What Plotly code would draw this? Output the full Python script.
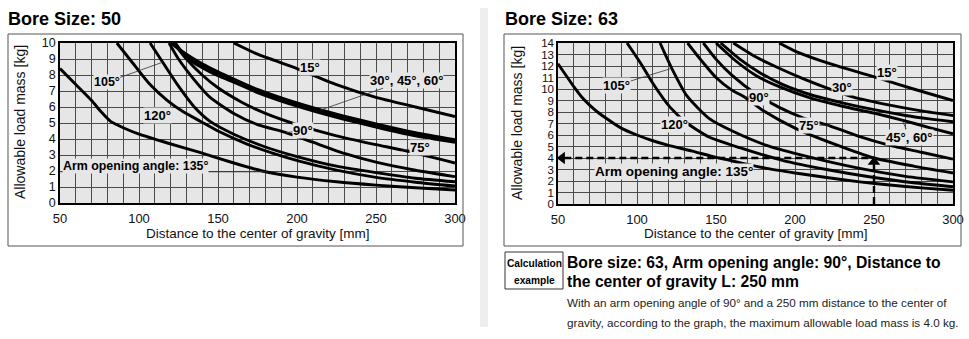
import numpy as np
import plotly.graph_objects as go

W, H = 969, 339

# ---------------- data: Bore Size 50 ----------------
b50_15_x = [160, 175, 200, 225, 250, 275, 300]
b50_15_y = [10, 9.3, 8.4, 7.4, 6.6, 6.0, 5.4]
b50_30_x = [120, 130, 140, 150, 160, 175, 200, 225, 250, 275, 300]
b50_30_y = [10, 9.3, 8.7, 8.2, 7.75, 7.1, 6.25, 5.55, 4.95, 4.4, 3.95]
b50_45_x = [121, 130, 140, 150, 160, 175, 200, 225, 250, 275, 300]
b50_45_y = [10, 9.2, 8.6, 8.1, 7.65, 7.0, 6.15, 5.45, 4.85, 4.3, 3.88]
b50_60_x = [123, 130, 140, 150, 160, 175, 200, 225, 250, 275, 300]
b50_60_y = [10, 9.1, 8.45, 7.95, 7.55, 6.9, 6.05, 5.35, 4.75, 4.2, 3.8]
b50_75_x = [122, 130, 140, 150, 165, 180, 200, 225, 250, 267, 300]
b50_75_y = [10, 9.0, 8.0, 7.2, 6.3, 5.6, 4.9, 4.2, 3.65, 3.3, 2.5]
b50_90_x = [119, 125, 135, 145, 160, 175, 193, 210, 230, 250, 275, 300]
b50_90_y = [10, 9.0, 7.7, 6.6, 5.6, 4.9, 4.4, 3.8, 3.1, 2.55, 2.05, 1.65]
b50_105_x = [107, 115, 125, 135, 145, 160, 180, 200, 225, 250, 275, 300]
b50_105_y = [10, 8.8, 7.3, 6.0, 5.1, 4.3, 3.5, 2.9, 2.3, 1.9, 1.55, 1.33]
b50_120_x = [86, 96, 107, 118, 128, 139, 150, 168, 185, 202, 225, 250, 275, 300]
b50_120_y = [10, 8.75, 7.4, 6.4, 5.7, 5.1, 4.5, 3.7, 3.1, 2.6, 2.05, 1.6, 1.3, 1.06]
b50_135_x = [50, 60, 70, 76, 82, 90, 100, 118, 139, 160, 178, 200, 225, 250, 275, 300]
b50_135_y = [8.4, 7.4, 6.4, 5.7, 5.1, 4.7, 4.3, 3.75, 3.15, 2.5, 2.0, 1.62, 1.33, 1.12, 0.95, 0.81]

# ---------------- data: Bore Size 63 ----------------
b63_15_x = [190, 200, 222, 254, 275, 300]
b63_15_y = [14, 13.3, 12.2, 10.9, 10.0, 9.0]
b63_30_x = [161, 175, 190, 205, 220, 237, 260, 280, 300]
b63_30_y = [14, 12.8, 11.8, 10.9, 10.1, 9.3, 8.6, 8.1, 7.7]
b63_45_x = [153, 165, 178, 192, 210, 230, 250, 270, 285, 300]
b63_45_y = [14, 12.6, 11.4, 10.4, 9.5, 8.8, 8.2, 7.7, 7.4, 7.15]
b63_60_x = [150, 162, 175, 190, 210, 230, 250, 267.7, 285, 300]
b63_60_y = [14, 12.5, 11.2, 10.2, 9.2, 8.5, 7.9, 7.3, 6.65, 6.1]
b63_75_x = [142, 150, 160, 175, 190, 205, 222, 240, 260, 280, 300]
b63_75_y = [14, 12.6, 11.2, 9.6, 8.4, 7.5, 6.8, 5.9, 5.1, 4.5, 3.9]
b63_90_x = [132, 140, 150, 160, 168, 180, 200, 225, 250, 275, 300]
b63_90_y = [14, 12.6, 11.0, 9.9, 9.3, 8.1, 6.6, 5.2, 4.0, 3.3, 2.7]
b63_105_x = [114.6, 122, 131.6, 146, 161, 182, 203, 241, 270, 300]
b63_105_y = [14, 11.8, 9.4, 7.4, 6.3, 5.1, 4.3, 3.1, 2.4, 1.92]
b63_120_x = [93.7, 102, 110, 121, 132, 146, 165, 192, 220, 250, 275, 300]
b63_120_y = [14, 12.3, 10.5, 8.4, 7.0, 5.8, 4.9, 3.8, 3.0, 2.3, 1.85, 1.5]
b63_135_x = [50, 55, 60, 65, 70, 75, 80, 90, 100, 110, 120, 135, 150, 165, 182, 200, 220, 241, 260, 280, 300]
b63_135_y = [12.2, 11.2, 10.2, 9.3, 8.6, 8.0, 7.5, 6.6, 6.0, 5.5, 5.1, 4.6, 4.05, 3.6, 3.1, 2.7, 2.3, 1.92, 1.65, 1.4, 1.2]

# calculation example
calc_distance = 250
calc_mass = 4.0

x_ticks = [50, 100, 150, 200, 250, 300]

BG = "#e6e6e6"
GRID = "#4a4a4a"
FONT = "Liberation Sans, Arial, sans-serif"


def px_x(p):
    return p / W


def px_y(p):
    return 1 - p / H


fig = go.Figure()

curves50 = [(b50_15_x, b50_15_y), (b50_30_x, b50_30_y), (b50_45_x, b50_45_y), (b50_60_x, b50_60_y),
            (b50_75_x, b50_75_y), (b50_90_x, b50_90_y), (b50_105_x, b50_105_y), (b50_120_x, b50_120_y),
            (b50_135_x, b50_135_y)]
curves63 = [(b63_15_x, b63_15_y), (b63_30_x, b63_30_y), (b63_45_x, b63_45_y), (b63_60_x, b63_60_y),
            (b63_75_x, b63_75_y), (b63_90_x, b63_90_y), (b63_105_x, b63_105_y), (b63_120_x, b63_120_y),
            (b63_135_x, b63_135_y)]

LW = 2.9
for cx, cy in curves50:
    fig.add_trace(go.Scatter(x=cx, y=cy, mode="lines", line=dict(color="black", width=LW, shape="spline", smoothing=0.6),
                             xaxis="x", yaxis="y", showlegend=False, hoverinfo="skip"))
for cx, cy in curves63:
    fig.add_trace(go.Scatter(x=cx, y=cy, mode="lines", line=dict(color="black", width=LW, shape="spline", smoothing=0.6),
                             xaxis="x2", yaxis="y2", showlegend=False, hoverinfo="skip"))

# calculation example dashed guides
fig.add_trace(go.Scatter(x=[x_ticks[0] + 4, calc_distance], y=[calc_mass, calc_mass], mode="lines",
                         line=dict(color="black", width=2.4, dash="7px,4px"), xaxis="x2", yaxis="y2",
                         showlegend=False, hoverinfo="skip"))
fig.add_trace(go.Scatter(x=[calc_distance, calc_distance], y=[0, calc_mass - 0.35], mode="lines",
                         line=dict(color="black", width=2.4, dash="7px,4px"), xaxis="x2", yaxis="y2",
                         showlegend=False, hoverinfo="skip"))
fig.add_trace(go.Scatter(x=[x_ticks[0] + 2.6], y=[calc_mass], mode="markers",
                         marker=dict(symbol="triangle-left", size=11, color="black"), xaxis="x2", yaxis="y2",
                         showlegend=False, hoverinfo="skip"))
fig.add_trace(go.Scatter(x=[calc_distance], y=[calc_mass - 0.35], mode="markers",
                         marker=dict(symbol="triangle-up", size=11, color="black"), xaxis="x2", yaxis="y2",
                         showlegend=False, hoverinfo="skip"))

axis_common = dict(showgrid=True, gridcolor=GRID, gridwidth=1, zeroline=False, showline=True, linecolor="black",
                   linewidth=1.5, mirror=True, ticks="", fixedrange=True, automargin=False)
xt_font = dict(family=FONT, size=13, color="#111")

fig.update_layout(
    width=W, height=H, margin=dict(l=0, r=0, t=0, b=0, autoexpand=False),
    paper_bgcolor="white", plot_bgcolor=BG, showlegend=False,
    xaxis=dict(domain=[px_x(60), px_x(455)], range=[50, 300], tickvals=x_ticks, anchor="y", tickfont=xt_font,
               ticklabelstandoff=3,
               minor=dict(dtick=10, tick0=50, showgrid=True, gridcolor=GRID, gridwidth=1), **axis_common),
    yaxis=dict(domain=[px_y(203), px_y(43)], range=[0, 10], dtick=1, anchor="x",
               tickfont=dict(family=FONT, size=12.5, color="#111"), **axis_common),
    xaxis2=dict(domain=[px_x(558), px_x(953)], range=[50, 300], tickvals=x_ticks, anchor="y2", tickfont=xt_font,
                ticklabelstandoff=3,
                minor=dict(dtick=10, tick0=50, showgrid=True, gridcolor=GRID, gridwidth=1), **axis_common),
    yaxis2=dict(domain=[px_y(204), px_y(43)], range=[0, 14], dtick=1, anchor="x2",
                tickfont=dict(family=FONT, size=11.5, color="#111"), **axis_common),
)

shapes = []
# outer boxes
shapes.append(dict(type="rect", xref="paper", yref="paper", x0=px_x(8), x1=px_x(463), y0=px_y(246), y1=px_y(34),
                   line=dict(color="#555", width=1)))
shapes.append(dict(type="rect", xref="paper", yref="paper", x0=px_x(504), x1=px_x(961), y0=px_y(246), y1=px_y(34),
                   line=dict(color="#555", width=1)))
# divider
shapes.append(dict(type="rect", xref="paper", yref="paper", x0=px_x(480), x1=px_x(488), y0=px_y(327), y1=px_y(8),
                   fillcolor="#eeeeee", line=dict(width=0), layer="below"))
# calc example box
shapes.append(dict(type="rect", xref="paper", yref="paper", x0=px_x(505), x1=px_x(563), y0=px_y(289), y1=px_y(252),
                   line=dict(color="#333", width=1)))

# 135 leader underline (left)
lead_m = 1.95
lead_end = float(np.interp(-lead_m, -np.array(b50_135_y), np.array(b50_135_x)))
shapes.append(dict(type="line", xref="x", yref="y", x0=50.5, x1=lead_end, y0=lead_m, y1=lead_m,
                   line=dict(color="#333", width=0.8)))
fig.update_layout(shapes=shapes)

ann = []


def lab(text, x, y, xr, yr, ax=None, ay=None, size=13, **kw):
    d = dict(text="<b>%s</b>" % text, x=x, y=y, xref=xr, yref=yr, bgcolor=BG, borderpad=0,
             font=dict(family=FONT, size=size, color="black"))
    if ax is None:
        d["showarrow"] = False
    else:
        d.update(showarrow=True, ax=ax, ay=ay, arrowhead=0, arrowwidth=0.8, arrowcolor="#333", standoff=0)
    d.update(kw)
    ann.append(d)


# left chart labels
lab("15°", 208, 8.45, "x", "y")
lab("30°, 45°, 60°", 214.6, 5.8, "x", "y", ax=86, ay=-30)
lab("105°", 115, 8.8, "x", "y", ax=-56, ay=20, size=12.5)
lab("120°", 112, 5.5, "x", "y")
lab("90°", 193, 4.4, "x", "y", ax=17, ay=-2)
lab("75°", 267, 3.3, "x", "y", ax=17, ay=-3)
lab("Arm opening angle: 135°", 51, 2.3, "x", "y", xanchor="left", size=12.4)

# right chart labels
lab("15°", 258, 11.45, "x2", "y2")
lab("30°", 229.7, 10.15, "x2", "y2")
lab("90°", 168, 9.3, "x2", "y2", ax=15, ay=0)
lab("105°", 122, 11.8, "x2", "y2", ax=-55, ay=17)
lab("120°", 123.5, 6.9, "x2", "y2")
lab("75°", 222, 6.85, "x2", "y2", ax=-21, ay=0)
lab("45°, 60°", 267.7, 7.3, "x2", "y2", ax=8, ay=17)
lab("Arm opening angle: 135°", 73, 2.85, "x2", "y2", xanchor="left", size=13.5)


def ptext(text, x, y, size, xanchor="left", bold=False, color="black", angle=0):
    ann.append(dict(text=("<b>%s</b>" % text) if bold else text, x=px_x(x), y=px_y(y), xref="paper", yref="paper",
                    xanchor=xanchor, yanchor="middle", showarrow=False, borderpad=0, textangle=angle,
                    font=dict(family=FONT, size=size, color=color)))


# axis titles
for cx in (257.5, 755.5):
    ptext("Distance to the center of gravity [mm]", cx, 233, 13.5, xanchor="center", color="#111")
ptext("Allowable load mass [kg]", 20, 122, 14, xanchor="center", color="#111", angle=-90)
ptext("Allowable load mass [kg]", 517, 123, 14, xanchor="center", color="#111", angle=-90)

# titles
ptext("Bore Size: 50", 7, 19, 18, bold=True)
ptext("Bore Size: 63", 504, 19, 18, bold=True)

# calculation example texts
ptext("Calculation", 534, 263, 10.2, xanchor="center", bold=True)
ptext("example", 534, 280, 10.2, xanchor="center", bold=True)
ptext("Bore size: 63, Arm opening angle: 90°, Distance to", 566, 262, 15.7, bold=True)
ptext("the center of gravity L: 250 mm", 566, 281, 15.7, bold=True)
ptext("With an arm opening angle of 90° and a 250 mm distance to the center of", 566, 302, 11.7, color="#222")
ptext("gravity, according to the graph, the maximum allowable load mass is 4.0 kg.", 566, 322, 11.7, color="#222")

fig.update_layout(annotations=ann)
fig.write_html("out.html")
